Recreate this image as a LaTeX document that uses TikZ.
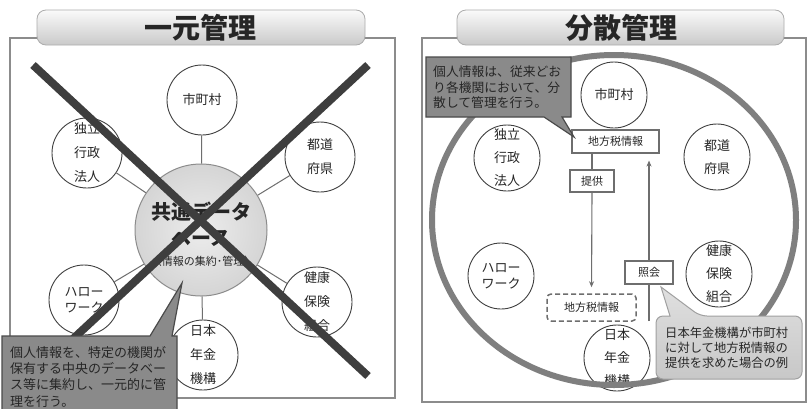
\documentclass[tikz,border=0pt]{standalone}
\usepackage{fontspec}
\setmainfont{Noto Sans CJK JP}
\usetikzlibrary{arrows.meta}
\definecolor{calldark}{HTML}{8A8A8A}
\definecolor{callborder}{HTML}{4A4A4A}
\definecolor{calllight}{HTML}{D2D2D2}
\definecolor{calllightb}{HTML}{A0A0A0}
\definecolor{ringc}{HTML}{7F7F7F}
\definecolor{xcol}{HTML}{3E3E3E}
\definecolor{framec}{HTML}{8C8C8C}
\definecolor{dbfill}{HTML}{E0E0E0}
\definecolor{txt}{HTML}{262626}
\definecolor{linec}{HTML}{6E6E6E}
\begin{document}
\begin{tikzpicture}[x=1pt,y=-1pt,
  frame/.style={draw=framec,line width=1.4pt},
  titletab/.style={rounded corners=9pt,top color=gray!4,bottom color=gray!42,draw=gray!65,line width=0.8pt},
  titletext/.style={font=\fontsize{28}{30}\selectfont\bfseries,text=txt},
  orgL/.style={circle,draw=black!75,line width=0.9pt,fill=white,minimum size=70pt,inner sep=0pt,align=center,text=txt,font=\fontsize{13}{24}\selectfont},
  orgR/.style={orgL,minimum size=66pt,font=\fontsize{13}{23}\selectfont},
  conn/.style={draw=linec,line width=1pt},
  xline/.style={draw=xcol,line width=8pt},
  infobox/.style={draw=linec,line width=1.1pt,fill=white,inner sep=0pt,text=txt,font=\fontsize{11}{12}\selectfont},
  arr/.style={draw=linec,line width=1.1pt},
  tip/.style={-{Stealth[length=6pt,width=5pt]}},
  calltext/.style={anchor=north west,inner sep=0pt,align=left,text=txt}
]
\useasboundingbox (0,0) rectangle (808,408);
\fill[white] (0,0) rectangle (808,408);

% ---------------- left panel ----------------
\draw[frame] (10,38) rectangle (395,398);
\draw[titletab] (37,10) rectangle (365,45);
\node[titletext] (tL) at (200,28) {一元管理};

\node[circle,draw=framec,line width=1pt,inner color=dbfill!60,outer color=dbfill!95!black,minimum size=132pt] (db) at (201,230) {};
\node[inner sep=0pt,text=txt,font=\fontsize{20}{22}\selectfont\bfseries] (db1) at (201,212) {共通データ};
\node[inner sep=0pt,text=txt,font=\fontsize{20}{22}\selectfont\bfseries] (db2) at (201,238) {ベース};
\node[inner sep=0pt,text=txt,font=\fontsize{11}{12}\selectfont] (db3) at (203,261) {（情報の集約･管理）};

\node[orgL] (L1) at (202,100) {市町村};
\node[orgL] (L2) at (87,153) {独立\\行政\\法人};
\node[orgL] (L3) at (320,157) {都道\\府県};
\node[orgL,font=\fontsize{13}{15.5}\selectfont] (L4) at (84,300) {ハロー\\ワーク};
\node[orgL] (L5) at (317,302) {健康\\保険\\組合};
\node[orgL] (L6) at (203,355) {日本\\年金\\機構};
\foreach \n in {L1,L2,L3,L4,L5,L6} \draw[conn] (db) -- (\n);

\coordinate (xa1) at (33,65);
\coordinate (xa2) at (368,376);
\coordinate (xb1) at (368,65);
\coordinate (xb2) at (33,376);
\draw[xline] (xa1) -- (xa2);
\draw[xline] (xb1) -- (xb2);

\draw[fill=calldark,draw=callborder,line width=1.2pt]
  (2,336) -- (150,336) -- (182,283) -- (172,336) -- (177,336) -- (177,412) -- (2,412) -- cycle;
\node[calltext,font=\fontsize{13}{16.3}\selectfont] (cL) at (10,346)
  {個人情報を、特定の機関が\\保有する中央のデータベー\\ス等に集約し、一元的に管\\理を行う。};

% ---------------- right panel ----------------
\draw[frame] (422,38) rectangle (806,402);
\draw[titletab] (457,10) rectangle (784,45);
\node[titletext] (tR) at (621,28) {分散管理};

\node[orgR] (R1) at (614,95) {市町村};
\node[orgR] (R2) at (507,158) {独立\\行政\\法人};
\node[orgR] (R3) at (717,157) {都道\\府県};
\node[orgR,font=\fontsize{13}{16.5}\selectfont] (R4) at (501,276) {ハロー\\ワーク};
\node[orgR] (R5) at (719,274) {健康\\保険\\組合};
\node[orgR] (R6) at (617,358) {日本\\年金\\機構};

\draw[ringc,line width=6pt] (614,220) ellipse [x radius=182pt,y radius=165pt];

\node[infobox,minimum width=87pt,minimum height=23pt] (tax) at (615.5,141.5) {地方税情報};
\node[infobox,minimum width=44pt,minimum height=22pt] (prov) at (592,181) {提供};
\node[infobox,minimum width=48pt,minimum height=23pt] (inq) at (649,272.5) {照会};
\node[infobox,line width=1.5pt,dash pattern=on 5pt off 3pt,rounded corners=4pt,minimum width=89pt,minimum height=27pt] (taxd) at (591.5,307.5) {地方税情報};
\coordinate (ustart) at (649,321);

\draw[arr] (tax.south -| prov.center) -- (prov.north);
\draw[arr,tip,shorten >=6pt] (prov.south) -- (taxd.north);
\draw[arr] (ustart) -- (inq.south);
\draw[arr,tip,shorten >=7pt] (inq.north) -- (tax.south -| inq.center);

% top-left callout (dark)
\draw[fill=calldark,draw=callborder,line width=1.2pt]
  (426,57) -- (571,57) -- (571,117) -- (562,117) -- (574,137) -- (544,117) -- (426,117) -- cycle;
\node[calltext,font=\fontsize{12.8}{15.6}\selectfont] (cR1) at (433,65.5)
  {個人情報は、従来どお\\り各機関において、分\\散して管理を行う。};

% bottom-right callout (light)
\draw[top color=calllight!70,bottom color=calllight!95!black,draw=calllightb,line width=1pt]
  (670,316) [rounded corners=7pt] -- (656,316) -- (656,379) -- (802,379) -- (802,316) -- (700,316) [sharp corners] -- (661,287) -- cycle;
\node[calltext,font=\fontsize{12.3}{15}\selectfont] (cR2) at (665,326.5)
  {日本年金機構が市町村\\に対して地方税情報の\\提供を求めた場合の例};
\end{tikzpicture}
\end{document}
